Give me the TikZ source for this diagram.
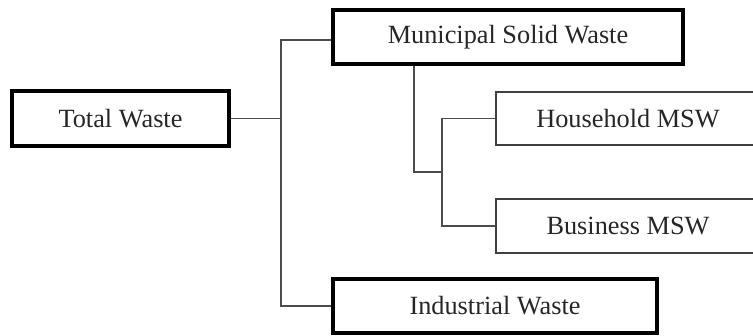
\documentclass[tikz,border=0pt]{standalone}
\usepackage{fontspec}
\setmainfont{Liberation Serif}
\begin{document}
\begin{tikzpicture}[x=1pt,y=-1pt,
  thickbox/.style={draw=black,line width=3.5pt,inner sep=0pt,align=center,text=black!85,font=\fontsize{26.3}{30}\selectfont},
  thinbox/.style={draw=black!75,line width=1.6pt,inner sep=0pt,align=center,text=black!85,font=\fontsize{26.3}{30}\selectfont},
  conn/.style={draw=black!70,line width=1.6pt}]
\clip (0,0) rectangle (753,336);
\useasboundingbox (0,0) rectangle (753,336);
\node[thickbox,minimum width=217pt,minimum height=55pt] (tw) at (120.5,118.5) {Total Waste};
\node[thickbox,minimum width=350pt,minimum height=54pt] (msw) at (508,37) {Municipal Solid Waste};
\node[thickbox,minimum width=324pt,minimum height=54pt] (ind) at (495,306) {Industrial Waste};
\node[thinbox,minimum width=264pt,minimum height=53pt] (hh) at (628,118.5) {Household MSW};
\node[thinbox,minimum width=264pt,minimum height=54pt] (bus) at (628,226) {Business MSW};
\coordinate (sa) at (281,40);
\coordinate (m1) at (414,172);
\coordinate (b) at (442,172);
\draw[conn] (msw.west |- sa) -- (sa) -- (sa |- ind.west) -- (ind.west);
\draw[conn] (tw.east) -- (tw.east -| sa);
\draw[conn] (msw.south -| m1) -- (m1) -- (b);
\draw[conn] (hh.west) -- (hh.west -| b) -- (bus.west -| b) -- (bus.west);
\end{tikzpicture}
\end{document}
